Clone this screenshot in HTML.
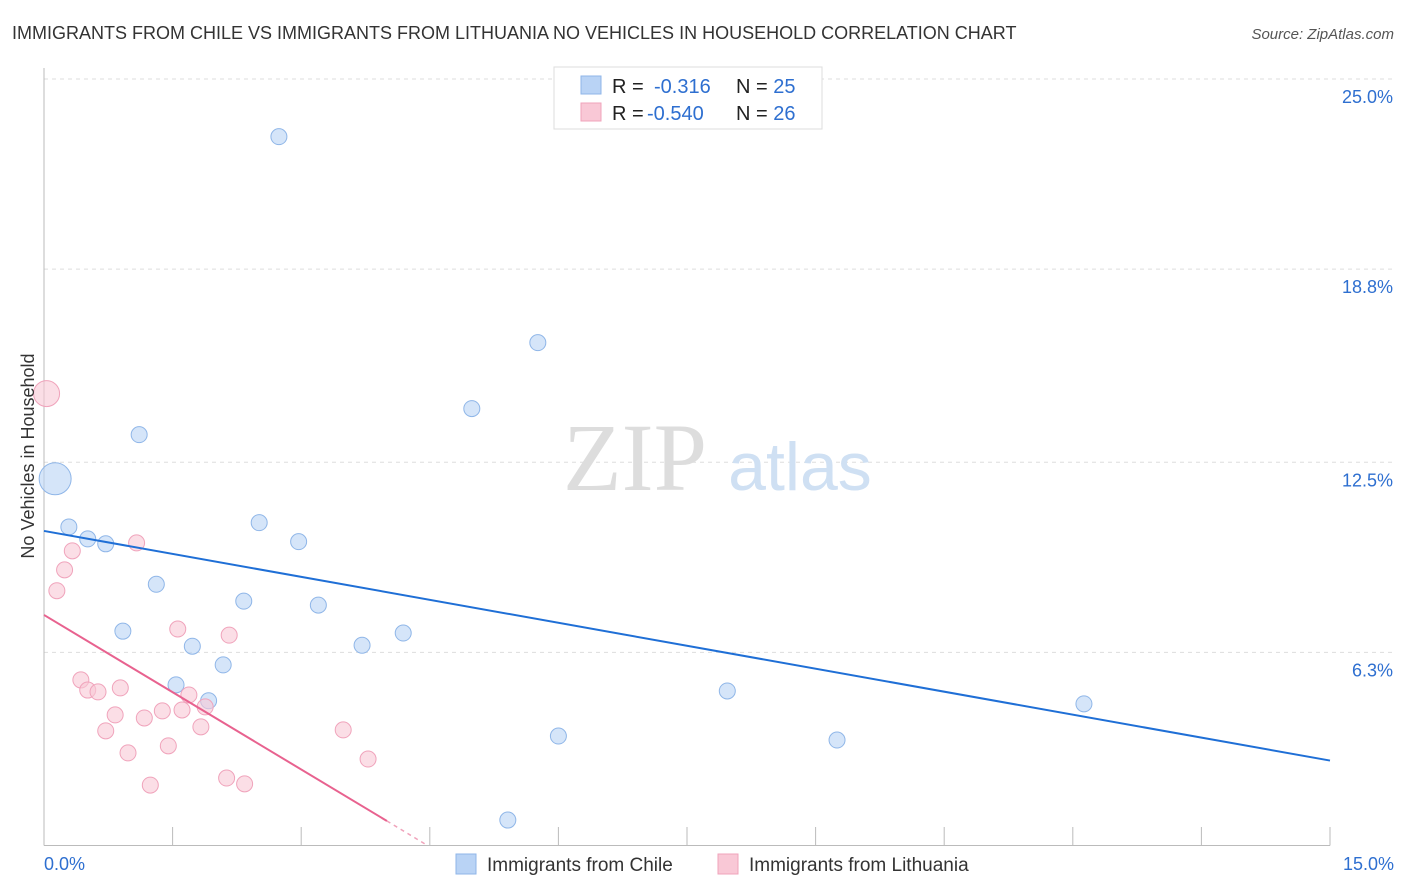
<!DOCTYPE html>
<html><head><meta charset="utf-8"><style>
body{margin:0;background:#fff;font-family:"Liberation Sans",sans-serif;}
svg{display:block}
</style></head><body>
<svg id="chart" width="1406" height="892" xmlns="http://www.w3.org/2000/svg">
<text x="12" y="39" font-size="18" fill="#333">IMMIGRANTS FROM CHILE VS IMMIGRANTS FROM LITHUANIA NO VEHICLES IN HOUSEHOLD CORRELATION CHART</text>
<text x="1394" y="39" font-size="15" fill="#555" font-style="italic" text-anchor="end">Source: ZipAtlas.com</text>
<g id="grid"></g>
<g id="axes"></g>
<text x="635" y="490" font-size="96" fill="#ddd" font-family="Liberation Serif,serif" text-anchor="middle">ZIP</text>
<text x="800" y="490" font-size="68" fill="#cfe0f3" text-anchor="middle">atlas</text>
<g id="marks"></g>
<text transform="translate(34,456) rotate(-90)" font-size="18" fill="#333" text-anchor="middle">No Vehicles in Household</text>
<g>
<rect x="554" y="67" width="268" height="62" fill="#fff" stroke="#ddd"/>
<rect x="581" y="76" width="20" height="18" fill="#b9d3f5" stroke="#8fb6e8"/>
<rect x="581" y="103" width="20" height="18" fill="#f9c8d6" stroke="#f0a3bb"/>
<text x="612" y="93" font-size="20" fill="#222">R = <tspan x="654" fill="#2e6fd0">-0.316</tspan><tspan x="736" fill="#222">N = </tspan><tspan fill="#2e6fd0">25</tspan></text>
<text x="612" y="120" font-size="20" fill="#222">R = <tspan x="647" fill="#2e6fd0">-0.540</tspan><tspan x="736" fill="#222">N = </tspan><tspan fill="#2e6fd0">26</tspan></text>
</g>
<g>
<rect x="456" y="854" width="20" height="20" fill="#b9d3f5" stroke="#8fb6e8"/>
<text x="487" y="871" font-size="19" fill="#333">Immigrants from Chile</text>
<rect x="718" y="854" width="20" height="20" fill="#f9c8d6" stroke="#f0a3bb"/>
<text x="749" y="871" font-size="19" fill="#333">Immigrants from Lithuania</text>
</g>
</svg>
<script>
const yTicks=[6.3,12.5,18.8,25.0];
const yTickLabels=["6.3%","12.5%","18.8%","25.0%"];
const xTickLabels=["0.0%","15.0%"];
const chileX=[2.74,5.76,4.99,1.11,0.13,0.29,0.51,0.72,2.51,2.97,1.31,2.33,3.20,0.92,1.73,3.71,4.19,2.09,1.54,1.92,7.97,12.13,6.00,9.25,5.41];
const chileY=[23.12,16.40,14.25,13.40,11.96,10.39,10.00,9.84,10.53,9.91,8.52,7.97,7.84,6.99,6.50,6.53,6.93,5.89,5.24,4.72,5.04,4.62,3.57,3.44,0.83];
const chileR=[8,8,8,8,16,8,8,8,8,8,8,8,8,8,8,8,8,8,8,8,8,8,8,8,8];
const lithX=[0.03,0.33,0.24,0.15,1.08,1.56,2.16,0.43,0.51,0.63,0.89,1.69,1.88,1.61,1.38,0.83,1.17,0.72,1.83,3.49,1.45,0.98,3.78,2.13,2.34,1.24];
const lithY=[14.74,9.61,8.99,8.31,9.87,7.06,6.86,5.40,5.07,5.01,5.14,4.91,4.52,4.42,4.39,4.26,4.16,3.74,3.87,3.77,3.25,3.02,2.82,2.20,2.01,1.97];
const lithR=[13,8,8,8,8,8,8,8,8,8,8,8,8,8,8,8,8,8,8,8,8,8,8,8,8,8];
const chileTrend=[[0,10.26],[15,2.77]];
const lithTrend=[[0,7.52],[4.0,0.80]];
const lithTrendDash=[[4.0,0.80],[4.45,0.04]];
const X0=44,X1=1330,YB=845.5,YT=79;
const xs=v=>X0+(X1-X0)*v/15;
const ys=v=>YB-(YB-YT)*v/25;
const NS="http://www.w3.org/2000/svg";
function mk(t,a,p){const e=document.createElementNS(NS,t);for(const k in a)e.setAttribute(k,a[k]);p.appendChild(e);return e;}
const grid=document.getElementById('grid'),axes=document.getElementById('axes'),marks=document.getElementById('marks');
yTicks.forEach((t,i)=>{
 const l=mk('line',{x1:X0,x2:1394,y1:ys(t),y2:ys(t),stroke:'#ddd','stroke-dasharray':'4,4'},grid);
 
 
 const tx=mk('text',{x:1393,y:ys(t)+24,'font-size':18,fill:'#2e6fd0','text-anchor':'end'},axes);
 tx.textContent=yTickLabels[i];
 
 
});
const ax=mk('line',{x1:X0,x2:X0,y1:68,y2:YB,stroke:'#bbb'},axes);


const bx=mk('line',{x1:X0,x2:X1,y1:YB,y2:YB,stroke:'#bbb'},axes);


for(let i=0;i<=10;i++){
 const v=i*1.5;
 const tk=mk('line',{x1:xs(v),x2:xs(v),y1:827,y2:YB,stroke:'#bbb'},axes);
 
 
}
[[0,'start',0],[15,'end',1]].forEach(([v,anc,i])=>{
 const tx=mk('text',{x:anc==='start'?xs(v):xs(v)+64,y:870,'font-size':18,fill:'#2e6fd0','text-anchor':anc},axes);
 tx.textContent=xTickLabels[i];
 
 
});
chileX.forEach((x,i)=>{
 const c=mk('circle',{cx:xs(x),cy:ys(chileY[i]),r:chileR[i],fill:'#b9d3f5','fill-opacity':0.6,stroke:'#8fb6e8'},marks);
 
 
});
lithX.forEach((x,i)=>{
 const c=mk('circle',{cx:xs(x),cy:ys(lithY[i]),r:lithR[i],fill:'#f9c8d6','fill-opacity':0.6,stroke:'#f0a3bb'},marks);
 
 
});
const t1=mk('line',{x1:xs(chileTrend[0][0]),y1:ys(chileTrend[0][1]),x2:xs(chileTrend[1][0]),y2:ys(chileTrend[1][1]),stroke:'#1f6fd6','stroke-width':2},marks);


const t2=mk('line',{x1:xs(lithTrend[0][0]),y1:ys(lithTrend[0][1]),x2:xs(lithTrend[1][0]),y2:ys(lithTrend[1][1]),stroke:'#e8628f','stroke-width':2},marks);


const t3=mk('line',{x1:xs(lithTrendDash[0][0]),y1:ys(lithTrendDash[0][1]),x2:xs(lithTrendDash[1][0]),y2:ys(lithTrendDash[1][1]),stroke:'#f0a3bb','stroke-width':1.5,'stroke-dasharray':'4,4'},marks);


</script>
</body></html>
